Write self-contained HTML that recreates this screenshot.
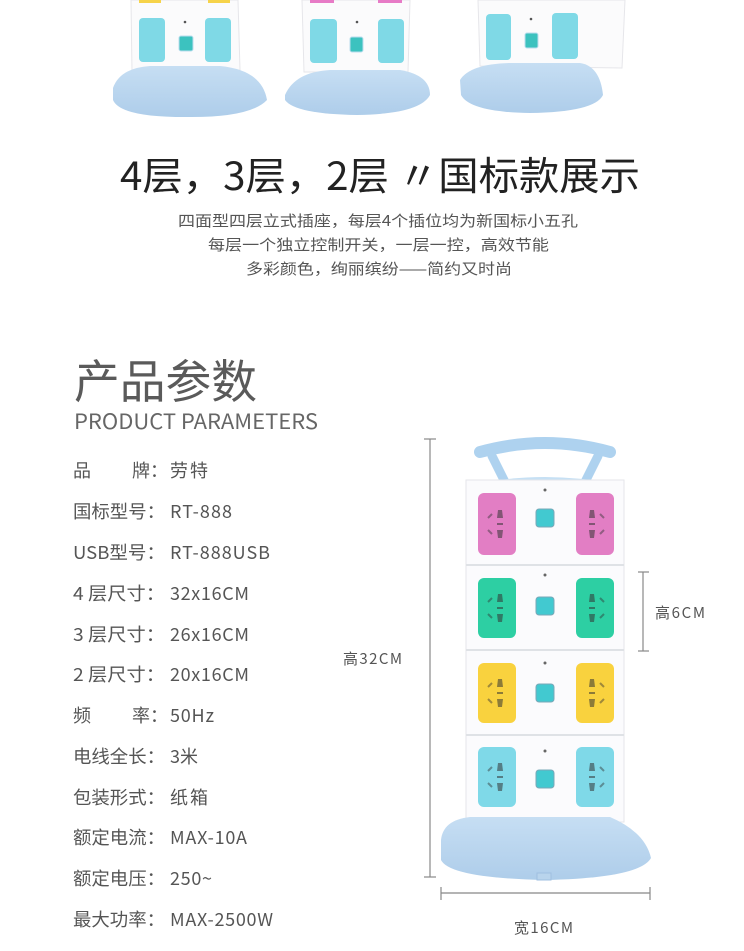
<!DOCTYPE html>
<html><head><meta charset="utf-8"><style>
html,body{margin:0;padding:0;background:#fff;width:744px;height:951px;overflow:hidden}
svg{display:block}
text{font-family:"Noto Sans CJK SC","Liberation Sans",sans-serif}
</style></head><body>
<svg width="744" height="951" viewBox="0 0 744 951" xmlns="http://www.w3.org/2000/svg">
<defs>
<g id="pins">
  <path d="M-2,-14 L2,-14 L3,-6 L-3,-6 Z" fill="#333" opacity=".55"/>
  <rect x="-3" y="-1" width="6" height="2" fill="#333" opacity=".55"/>
  <path d="M-3,6 L3,6 L2,14 L-2,14 Z" fill="#333" opacity=".55"/>
  <path d="M-12,-6 L-8,-10" stroke="#333" stroke-width="2" opacity=".45"/>
  <path d="M-12,6 L-8,10" stroke="#333" stroke-width="2" opacity=".45"/>
</g>
<linearGradient id="base" x1="0" y1="0" x2="0" y2="1"><stop offset="0" stop-color="#c6def3"/><stop offset="1" stop-color="#aecdea"/></linearGradient>
</defs>

<!-- top three towers -->
<g>
  <path d="M131,0 L238,0 L240,70 L132,72 Z" fill="#fbfbfc" stroke="#e6e6ea"/>
  <rect x="139" y="0" width="22" height="3" fill="#f6d34a"/><rect x="208" y="0" width="22" height="3" fill="#f6d34a"/>
  <rect x="139" y="18" width="26" height="44" rx="4" fill="#7fd9e6"/>
  <rect x="205" y="18" width="26" height="44" rx="4" fill="#7fd9e6"/>
  <rect x="179" y="36" width="14" height="15" rx="2" fill="#3cc2bf" stroke="#bde" />
  <circle cx="185" cy="22" r="1.3" fill="#555"/>
  <path d="M113,88 Q120,68 150,66 L220,66 Q262,70 267,100 Q250,118 185,117 Q120,117 113,100 Z" fill="url(#base)"/>
</g>
<g>
  <path d="M302,0 L410,0 L408,72 L304,72 Z" fill="#fbfbfc" stroke="#e6e6ea"/>
  <rect x="310" y="0" width="24" height="3" fill="#e77bc6"/><rect x="378" y="0" width="24" height="3" fill="#e77bc6"/>
  <rect x="310" y="19" width="27" height="44" rx="4" fill="#7fd9e6"/>
  <rect x="378" y="19" width="26" height="44" rx="4" fill="#7fd9e6"/>
  <rect x="350" y="37" width="13" height="15" rx="2" fill="#3cc2bf" stroke="#bde"/>
  <circle cx="357" cy="22" r="1.3" fill="#555"/>
  <path d="M285,95 Q295,72 330,70 L400,70 Q430,75 430,95 Q420,114 357,115 Q295,114 285,100 Z" fill="url(#base)"/>
</g>
<g>
  <path d="M478,0 L625,0 L622,68 L480,66 Z" fill="#fbfbfc" stroke="#e6e6ea"/>
  <rect x="486" y="14" width="25" height="46" rx="4" fill="#7fd9e6"/>
  <rect x="552" y="13" width="26" height="46" rx="4" fill="#7fd9e6"/>
  <rect x="525" y="33" width="13" height="15" rx="2" fill="#3cc2bf" stroke="#bde"/>
  <circle cx="531" cy="19" r="1.3" fill="#555"/>
  <path d="M460,80 Q470,64 510,63 L580,63 Q600,66 603,95 Q595,112 530,113 Q470,112 461,95 Z" fill="url(#base)"/>
</g>

<!-- headings -->
<text x="120" y="190" font-size="39" fill="#222" textLength="520" lengthAdjust="spacingAndGlyphs">4层，3层，2层 〃国标款展示</text>
<text x="178" y="226" font-size="15" fill="#555" textLength="400" lengthAdjust="spacingAndGlyphs">四面型四层立式插座，每层4个插位均为新国标小五孔</text>
<text x="208" y="250" font-size="15" fill="#555" textLength="341" lengthAdjust="spacingAndGlyphs">每层一个独立控制开关，一层一控，高效节能</text>
<text x="246" y="274" font-size="15" fill="#555" textLength="266" lengthAdjust="spacingAndGlyphs">多彩颜色，绚丽缤纷——简约又时尚</text>

<text x="74" y="398" font-size="46" fill="#5a5a5a" textLength="183" lengthAdjust="spacingAndGlyphs">产品参数</text>
<text x="74" y="429" font-size="21" fill="#666" textLength="244" lengthAdjust="spacingAndGlyphs">PRODUCT PARAMETERS</text>

<g font-size="18" fill="#555">
<text x="73" y="477">品</text><text x="132" y="477">牌：</text><text x="170" y="477" textLength="38">劳特</text>
<text x="73" y="518" textLength="92" lengthAdjust="spacingAndGlyphs">国标型号：</text><text x="170" y="518" textLength="62">RT-888</text>
<text x="73" y="559" textLength="92" lengthAdjust="spacingAndGlyphs">USB型号：</text><text x="170" y="559" textLength="100">RT-888USB</text>
<text x="73" y="600" textLength="92" lengthAdjust="spacingAndGlyphs">4 层尺寸：</text><text x="170" y="600" textLength="79">32x16CM</text>
<text x="73" y="641" textLength="92" lengthAdjust="spacingAndGlyphs">3 层尺寸：</text><text x="170" y="641" textLength="79">26x16CM</text>
<text x="73" y="681" textLength="92" lengthAdjust="spacingAndGlyphs">2 层尺寸：</text><text x="170" y="681" textLength="79">20x16CM</text>
<text x="73" y="722">频</text><text x="132" y="722">率：</text><text x="170" y="722" textLength="44">50Hz</text>
<text x="73" y="763" textLength="92" lengthAdjust="spacingAndGlyphs">电线全长：</text><text x="170" y="763" textLength="28">3米</text>
<text x="73" y="804" textLength="92" lengthAdjust="spacingAndGlyphs">包装形式：</text><text x="170" y="804" textLength="38">纸箱</text>
<text x="73" y="844" textLength="92" lengthAdjust="spacingAndGlyphs">额定电流：</text><text x="170" y="844" textLength="77">MAX-10A</text>
<text x="73" y="885" textLength="92" lengthAdjust="spacingAndGlyphs">额定电压：</text><text x="170" y="885" textLength="42">250~</text>
<text x="73" y="926" textLength="92" lengthAdjust="spacingAndGlyphs">最大功率：</text><text x="170" y="926" textLength="103">MAX-2500W</text>
</g>

<!-- dimension lines -->
<g stroke="#888" stroke-width="1.2" fill="none">
  <line x1="430" y1="439" x2="430" y2="877"/><line x1="424" y1="439" x2="436" y2="439"/><line x1="424" y1="877" x2="436" y2="877"/>
  <line x1="643" y1="572" x2="643" y2="651"/><line x1="638" y1="572" x2="649" y2="572"/><line x1="638" y1="651" x2="649" y2="651"/>
  <line x1="441" y1="893" x2="650" y2="893"/><line x1="441" y1="887" x2="441" y2="900"/><line x1="650" y1="887" x2="650" y2="900"/>
</g>
<text x="343" y="664" font-size="15" fill="#555" textLength="59">高32CM</text>
<text x="655" y="618" font-size="15" fill="#555" textLength="50">高6CM</text>
<text x="514" y="933" font-size="15" fill="#555" textLength="59">宽16CM</text>

<!-- main tower -->
<g fill="none" stroke="#aed2ef" stroke-linecap="round">
  <path d="M480,452 Q545,434 610,452" stroke-width="12"/>
  <path d="M492,456 L506,484" stroke-width="9"/>
  <path d="M598,456 L584,484" stroke-width="9"/>
</g>
<path d="M476,484 Q545,470 614,484 L614,492 L476,492 Z" fill="#c6e0f4"/>
<rect x="466" y="480" width="158" height="342" fill="#fbfbfd" stroke="#e4e6ea"/>
<line x1="466" y1="565" x2="624" y2="565" stroke="#dfe2e6" stroke-width="2"/>
<line x1="466" y1="650" x2="624" y2="650" stroke="#dfe2e6" stroke-width="2"/>
<line x1="466" y1="735" x2="624" y2="735" stroke="#dfe2e6" stroke-width="2"/>

<g>
  <rect x="478" y="493" width="38" height="62" rx="6" fill="#e27ec4"/>
  <rect x="576" y="493" width="38" height="62" rx="6" fill="#e27ec4"/>
  <rect x="478" y="578" width="38" height="60" rx="6" fill="#2dcfa3"/>
  <rect x="576" y="578" width="38" height="60" rx="6" fill="#2dcfa3"/>
  <rect x="478" y="663" width="38" height="60" rx="6" fill="#f9d23e"/>
  <rect x="576" y="663" width="38" height="60" rx="6" fill="#f9d23e"/>
  <rect x="478" y="747" width="38" height="60" rx="6" fill="#7fd9e8"/>
  <rect x="576" y="747" width="38" height="60" rx="6" fill="#7fd9e8"/>
  <use href="#pins" x="500" y="524"/><use href="#pins" x="592" y="524" transform="translate(1184,0) scale(-1,1)"/>
  <use href="#pins" x="500" y="608"/><use href="#pins" x="592" y="608" transform="translate(1184,0) scale(-1,1)"/>
  <use href="#pins" x="500" y="693"/><use href="#pins" x="592" y="693" transform="translate(1184,0) scale(-1,1)"/>
  <use href="#pins" x="500" y="777"/><use href="#pins" x="592" y="777" transform="translate(1184,0) scale(-1,1)"/>
</g>
<g fill="#42c9d0" stroke="#7aa8b8" stroke-width="1">
  <rect x="536" y="509" width="18" height="18" rx="3"/>
  <rect x="536" y="597" width="18" height="18" rx="3"/>
  <rect x="536" y="684" width="18" height="18" rx="3"/>
  <rect x="536" y="770" width="18" height="18" rx="3"/>
</g>
<g fill="#666"><circle cx="545" cy="490" r="1.5"/><circle cx="545" cy="575" r="1.5"/><circle cx="545" cy="663" r="1.5"/><circle cx="545" cy="751" r="1.5"/></g>

<path d="M441,840 Q443,820 470,817 L610,817 Q645,832 651,858 Q640,878 545,880 Q450,878 441,860 Z" fill="url(#base)"/>
<rect x="537" y="873" width="14" height="7" fill="#b9d4ec" stroke="#9fbfe0"/>
</svg>
</body></html>
